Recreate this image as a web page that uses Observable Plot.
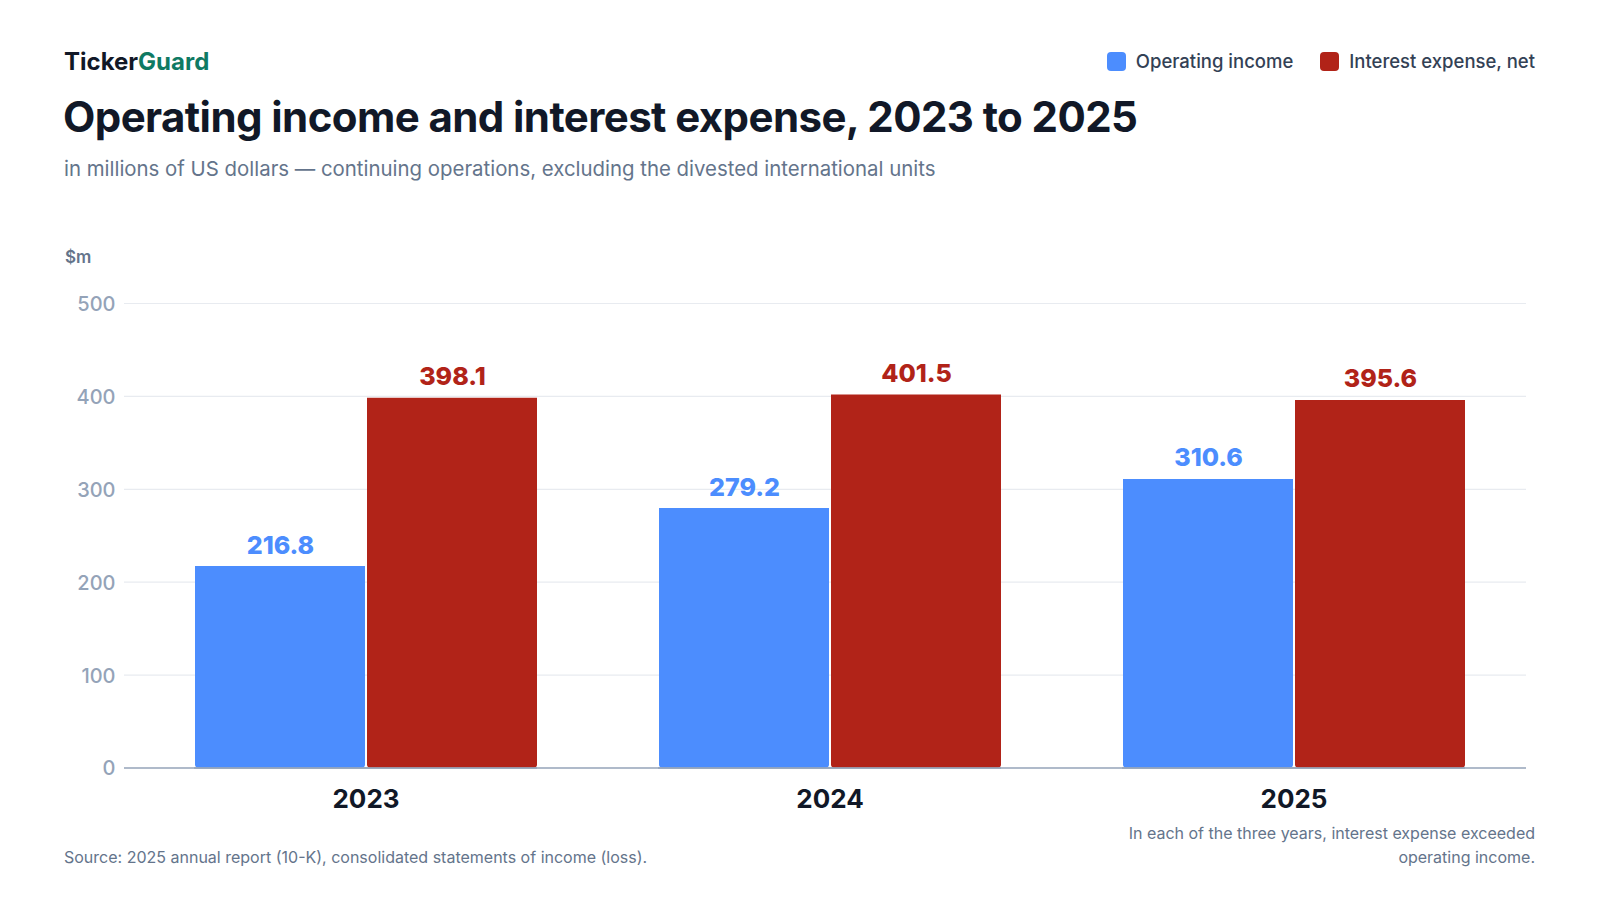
<!DOCTYPE html>
<html>
<head>
<meta charset="utf-8">
<script src="https://cdn.jsdelivr.net/npm/d3@7"></script>
<script src="https://cdn.jsdelivr.net/npm/@observablehq/plot@0.6"></script>
<style>
  html, body { margin: 0; padding: 0; background: #ffffff; }
  body { width: 1600px; height: 900px; position: relative; overflow: hidden; font-family: Inter, "Noto Sans", sans-serif; }
  .abs { position: absolute; white-space: nowrap; line-height: 1; }
  #brand { left: 64px; top: 50px; font-size: 24px; font-weight: 700; color: #111827; letter-spacing: 0; }
  #brand span { color: #0f7a63; }
  #title { left: 63px; top: 96px; font-size: 42px; font-weight: 700; color: #111827; letter-spacing: -0.014em; }
  #subtitle { left: 64px; top: 159px; font-size: 20.4px; font-weight: 400; color: #64748b; }
  #unit { left: 65px; top: 249px; font-size: 17px; font-weight: 600; color: #64748b; }
  #legend { right: 65px; top: 52px; display: flex; align-items: center; font-size: 18.5px; font-weight: 500; color: #334155; }
  .item { display: flex; align-items: center; margin-left: 27px; }
  .sw { width: 19px; height: 19px; border-radius: 4px; margin-right: 10px; }
  #source { left: 64px; top: 849px; font-size: 16px; color: #64748b; }
  #note { right: 65px; top: 821px; font-size: 16px; line-height: 24px; color: #64748b; text-align: right; }
  .layer { position: absolute; left: 0; top: 280px; }
</style>
</head>
<body>
<div id="brand" class="abs">Ticker<span>Guard</span></div>
<div id="title" class="abs">Operating income and interest expense, 2023 to 2025</div>
<div id="subtitle" class="abs">in millions of US dollars — continuing operations, excluding the divested international units</div>
<div id="legend" class="abs"></div>
<div id="unit" class="abs">$m</div>
<div id="bg" class="layer"></div>
<div id="fg" class="layer"></div>
<div id="source" class="abs">Source: 2025 annual report (10-K), consolidated statements of income (loss).</div>
<div id="note" class="abs">In each of the three years, interest expense exceeded<br>operating income.</div>
<script>
// ---- data ----
const years = ["2023", "2024", "2025"];
const series = ["Operating income", "Interest expense, net"];
const operatingIncome = [216.8, 279.2, 310.6];
const interestExpense = [398.1, 401.5, 395.6];
const yTicks = [0, 100, 200, 300, 400, 500];
const colors = ["#4c8dfe", "#b12318"];

const rows = years.flatMap((year, i) => [
  {year, series: series[0], value: operatingIncome[i]},
  {year, series: series[1], value: interestExpense[i]}
]);

// legend
const legend = document.getElementById("legend");
series.forEach((s, i) => {
  const it = document.createElement("div");
  it.className = "item";
  it.innerHTML = `<div class="sw" style="background:${colors[i]}"></div><div>${s}</div>`;
  legend.appendChild(it);
});

const common = {
  width: 1600,
  height: 550,
  marginTop: 23,
  marginBottom: 62.5,
  marginLeft: 124,
  marginRight: 74,
  style: {fontFamily: "Inter, 'Noto Sans', sans-serif", background: "transparent", overflow: "visible"}
};

// background layer: gridlines, baseline and y tick labels across the full frame
const bg = Plot.plot({
  ...common,
  y: {domain: [0, 500], axis: null},
  marks: [
    Plot.ruleY(yTicks.filter(d => d > 0), {stroke: "#e8ebf0", strokeWidth: 1.2}),
    Plot.ruleY([0], {stroke: "#94a3b8", strokeWidth: 1.6}),
    Plot.text(yTicks, {y: d => d, text: d => String(d), frameAnchor: "left", textAnchor: "end",
      dx: -9, dy: 1, fontSize: 20, fontWeight: 500, fill: "#94a3b8"})
  ]
});
document.getElementById("bg").appendChild(bg);

// foreground layer: grouped bars faceted by year
const fg = Plot.plot({
  ...common,
  fx: {domain: years, paddingInner: 0.26, paddingOuter: 0.14, align: 0.537, axis: null, label: null},
  x: {domain: series, paddingInner: 0.012, paddingOuter: 0, axis: null},
  y: {domain: [0, 500], axis: null},
  color: {domain: series, range: colors},
  marks: [
    Plot.barY(rows, {fx: "year", x: "series", y: "value", fill: "series", ry2: 3, rx2y2: 3, rx1y2: 3}),
    Plot.text(rows, {fx: "year", x: "series", y: "value", text: d => d.value.toFixed(1), fill: "series",
      dy: -21, fontSize: 25, fontWeight: 800}),
    Plot.ruleY([0], {stroke: "#94a3b8", strokeWidth: 1.6}),
    Plot.text(years, {fx: d => d, text: d => d, frameAnchor: "bottom", dy: 39.5, fontSize: 26, fontWeight: 700, fill: "#111827"})
  ]
});
document.getElementById("fg").appendChild(fg);
</script>
</body>
</html>
